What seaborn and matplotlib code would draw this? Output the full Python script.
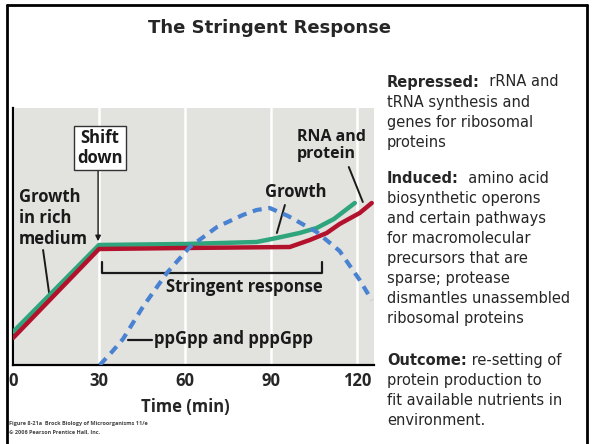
import matplotlib
matplotlib.use("Agg")
import matplotlib.pyplot as plt
from matplotlib.lines import Line2D
import seaborn as sns

# values (time in min, level in arbitrary units)
growth_time = [0, 30, 60, 85, 92, 100, 106, 112, 119.3]
growth_level = [33, 120, 121, 123, 127, 132, 137, 146, 162]
rna_time = [0, 30, 60, 96.6, 103.6, 109.5, 114, 121, 125.2]
rna_level = [27, 116, 117, 118, 125, 132, 141, 152, 162]
ppgpp_time = [30.3, 34.5, 38.4, 45.3, 53.7, 61.7, 71.2, 80.2, 85, 89.6, 96, 106, 114, 121, 125.2]
ppgpp_level = [0, 13, 26, 58, 92, 118, 138, 150, 155, 157, 149, 133, 114, 85, 65]
time_ticks = [0, 30, 60, 90, 120]

title = "The Stringent Response"
paragraphs = [
    ("Repressed:", "  rRNA and", ["tRNA synthesis and", "genes for ribosomal", "proteins"]),
    ("Induced:", "  amino acid", ["biosynthetic operons", "and certain pathways",
                                  "for macromolecular", "precursors that are",
                                  "sparse; protease", "dismantles unassembled",
                                  "ribosomal proteins"]),
    ("Outcome:", " re-setting of", ["protein production to", "fit available nutrients in",
                                    "environment."]),
]
credit = ["Figure 8-21a  Brock Biology of Microorganisms 11/e",
          "\u00a9 2006 Pearson Prentice Hall, Inc."]

GREEN = "#2ea57c"
RED = "#b3122c"
BLUE = "#4a82d2"
BG = "#e2e2de"

W, H = 592, 444


def fx(x):
    return x / W


def fy(y):
    return 1 - y / H


sns.set_theme(style="white", rc={"axes.facecolor": BG})
plt.rcParams["font.family"] = ["Open Sans", "DejaVu Sans"]

fig = plt.figure(figsize=(W / 100, H / 100), dpi=100)
ax = fig.add_axes([fx(13), fy(365), fx(374) - fx(13), fy(108) - fy(365)])

sns.lineplot(x=growth_time, y=growth_level, ax=ax, color=GREEN, lw=3.2, sort=False, zorder=3)
sns.lineplot(x=rna_time, y=rna_level, ax=ax, color=RED, lw=3.2, sort=False, zorder=3)
sns.lineplot(x=ppgpp_time, y=ppgpp_level, ax=ax, color=BLUE, lw=3.0, sort=False, zorder=4,
             dashes=False, linestyle=(0, (2.2, 1.6)))

ax.set_xlim(0, 126)
ax.set_ylim(0, 257)
ax.set_xticks(time_ticks)
ax.set_xticklabels([str(t) for t in time_ticks], fontweight="bold", fontsize=12)
ax.set_yticks([])
ax.tick_params(axis="x", length=0, pad=5)
ax.grid(axis="x", color="white", lw=1.8)
ax.grid(axis="y", visible=False)
for side in ["top", "right"]:
    ax.spines[side].set_visible(False)
for side in ["left", "bottom"]:
    ax.spines[side].set_color("black")
    ax.spines[side].set_linewidth(1.6)
ax.set_xlabel("Time (min)", fontweight="bold", fontsize=12)
ax.xaxis.set_label_coords(0.476, -0.13)

lab = dict(fontweight="bold", fontsize=12, color="#1a1a1a")
ax.text(30.3, 217, "Shift\ndown", ha="center", va="center", linespacing=1.15, zorder=5,
        bbox=dict(boxstyle="square,pad=0.2", fc="white", ec="#333333", lw=1), **lab)
ax.annotate("", xy=(29.7, 121), xytext=(29.7, 197),
            arrowprops=dict(arrowstyle="-|>", color="#1a1a1a", lw=1, mutation_scale=8))
ax.text(2.1, 147, "Growth\nin rich\nmedium", ha="left", va="center", linespacing=1.2, **lab)
ax.plot([10.5, 12.6], [115, 72], color="#1a1a1a", lw=1.4)
ax.text(98.7, 173, "Growth", ha="center", va="center", **lab)
ax.plot([94.9, 92.1], [160, 132], color="#1a1a1a", lw=1.4)
ax.text(99, 219.5, "RNA and\nprotein", ha="left", va="center", linespacing=1.1,
        fontweight="bold", fontsize=11.5, color="#1a1a1a")
ax.plot([117.2, 122.1], [198, 163], color="#1a1a1a", lw=1.4)
ax.plot([31, 31, 107.8, 107.8], [103, 92, 92, 103], color="#1a1a1a", lw=1.6)
ax.text(80.9, 78, "Stringent response", ha="center", va="center", **lab)
ax.plot([40.1, 48.5], [25, 25], color="#1a1a1a", lw=1.6)
ax.text(49.2, 26, "ppGpp and pppGpp", ha="left", va="center", **lab)

# slide text
slide_font = ["DejaVu Sans"]
fig.text(fx(269), fy(28), title, ha="center", va="center", fontsize=13,
         fontweight="bold", family=slide_font)
starts = [82, 178, 360]
for (head, rest, lines), y0 in zip(paragraphs, starts):
    h = fig.text(fx(387), fy(y0), head, ha="left", va="center", fontsize=10.5,
                 fontweight="bold", family=slide_font)
    ax.annotate(rest, xy=(1, 0), xycoords=h, ha="left", va="bottom", fontsize=10.5,
                family=slide_font, annotation_clip=False)
    for i, line in enumerate(lines):
        fig.text(fx(387), fy(y0 + 20 * (i + 1)), line, ha="left", va="center",
                 fontsize=10.5, family=slide_font)

for i, line in enumerate(credit):
    fig.text(fx(9), fy(423 + 9 * i), line, ha="left", va="center", fontsize=4,
             fontweight="bold", color="#444444")

# slide frame
for xs, ys in [([7, 7], [444, 5]), ([7, 587], [5, 5]), ([587, 587], [5, 444])]:
    fig.add_artist(Line2D([fx(x) for x in xs], [fy(y) for y in ys],
                          transform=fig.transFigure, color="black", lw=2))

fig.savefig("out.png", dpi=100)
